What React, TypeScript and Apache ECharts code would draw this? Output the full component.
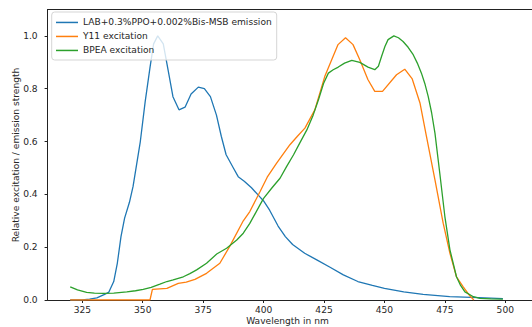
import React, { useEffect, useRef } from "react";
import * as echarts from "echarts";

const SERIES_NAMES = [
  "LAB+0.3%PPO+0.002%Bis-MSB emission",
  "Y11 excitation",
  "BPEA excitation",
];
const COLORS = ["#1f77b4", "#ff7f0e", "#2ca02c"];

const X_TICKS = [325, 350, 375, 400, 425, 450, 475, 500];
const Y_TICKS = [0, 0.2, 0.4, 0.6, 0.8, 1.0];

const LAB_NM = [320, 325, 328, 331, 334, 336, 338, 339.5, 341, 342.5, 344.5, 346, 349, 351, 353, 354.5, 356.2, 358.5, 360.5, 362.5, 365, 367.5, 370, 373, 375.5, 378, 380.5, 382.5, 384.5, 387.5, 389.5, 392, 395, 398, 400, 402.5, 406, 409, 412, 417, 422, 427.5, 433, 439, 445, 450, 458, 466, 477, 489, 499];
const LAB_VAL = [0.0, 0.0005, 0.003, 0.008, 0.02, 0.03, 0.07, 0.14, 0.24, 0.31, 0.37, 0.43, 0.6, 0.75, 0.88, 0.97, 1.0, 0.97, 0.87, 0.77, 0.72, 0.73, 0.78, 0.806, 0.8, 0.77, 0.7, 0.62, 0.55, 0.5, 0.467, 0.45, 0.425, 0.395, 0.375, 0.34, 0.28, 0.24, 0.21, 0.177, 0.152, 0.124, 0.095, 0.07, 0.055, 0.044, 0.031, 0.021, 0.0125, 0.009, 0.005];

const Y11_NM = [320, 353, 354, 360, 364.7, 368, 371.6, 376.4, 381.9, 386.1, 391.6, 394.3, 398.5, 401.5, 405.4, 410.9, 414, 417.1, 421.2, 425.3, 430.8, 433.9, 437, 439.8, 443.2, 446, 449.2, 455, 458.4, 461.5, 464.7, 467.4, 470.9, 474.3, 477.1, 479.8, 482.6, 485.4, 487];
const Y11_VAL = [0, 0, 0.04, 0.044, 0.063, 0.068, 0.078, 0.101, 0.139, 0.205, 0.3, 0.335, 0.41, 0.465, 0.518, 0.588, 0.62, 0.651, 0.72, 0.846, 0.967, 0.993, 0.967, 0.91, 0.834, 0.79, 0.79, 0.853, 0.874, 0.837, 0.746, 0.619, 0.455, 0.291, 0.177, 0.088, 0.05, 0.015, 0];

const BPEA_NM = [320, 323, 326.8, 330, 333.7, 338, 343.4, 347, 350.2, 353.5, 357.1, 360, 362.6, 366.8, 369.5, 372.3, 376.4, 380.6, 384.7, 388.9, 391.6, 394.3, 398.5, 400, 403.5, 406.8, 409.5, 412.4, 415, 417.9, 420.5, 422.7, 424.8, 426.8, 428.8, 430.9, 433.5, 436.5, 439.8, 443.2, 446, 447.5, 448.8, 450.2, 451.5, 453.9, 455.8, 457.7, 459.8, 461.9, 463.6, 465.3, 466.7, 468.1, 469.5, 470.9, 472.9, 475, 477.1, 479.8, 481.5, 483.3, 486.8, 489.5, 494, 499];
const BPEA_VAL = [0.05, 0.038, 0.029, 0.026, 0.025, 0.026, 0.031, 0.035, 0.04, 0.048, 0.06, 0.07, 0.076, 0.088, 0.1, 0.114, 0.139, 0.174, 0.196, 0.227, 0.253, 0.29, 0.36, 0.385, 0.425, 0.461, 0.505, 0.55, 0.595, 0.644, 0.7, 0.758, 0.82, 0.859, 0.872, 0.882, 0.897, 0.907, 0.9, 0.882, 0.872, 0.885, 0.922, 0.96, 0.986, 1.0, 0.993, 0.979, 0.957, 0.929, 0.897, 0.859, 0.82, 0.771, 0.71, 0.632, 0.48, 0.316, 0.19, 0.088, 0.055, 0.031, 0.0125, 0.006, 0.004, 0.003];

const X_LABEL = "Wavelength in nm";
const Y_LABEL = "Relative excitation / emission strength";

const FONT = "DejaVu Sans";
const FS = 9.1;

function pairs(xs: number[], ys: number[]) {
  return xs.map((x, i) => [x, ys[i]]);
}

export default function App() {
  const ref = useRef<HTMLDivElement>(null);
  useEffect(() => {
    if (!ref.current) return;
    const chart = echarts.init(ref.current, undefined, { renderer: "svg" });
    const xs = [LAB_NM, Y11_NM, BPEA_NM];
    const ys = [LAB_VAL, Y11_VAL, BPEA_VAL];
    const axisLine = { show: true, lineStyle: { color: "#222", width: 1 } };
    chart.setOption({
      animation: false,
      backgroundColor: "#fff",
      grid: { left: 47.6, right: 0, top: 9.5, bottom: 27, containLabel: false },
      xAxis: [
        {
          type: "value",
          min: 310.64,
          max: 511.05,
          axisLine: { ...axisLine, onZero: false },
          splitLine: { show: false },
          axisTick: { show: true, length: 3, customValues: X_TICKS, lineStyle: { color: "#222" } },
          axisLabel: {
            customValues: X_TICKS,
            fontFamily: FONT,
            fontSize: FS,
            color: "#262626",
            margin: 5,
          },
        },
        {
          type: "value",
          position: "top",
          min: 310.64,
          max: 511.05,
          axisLine: { ...axisLine, onZero: false },
          splitLine: { show: false },
          axisTick: { show: false },
          axisLabel: { show: false },
        },
      ],
      yAxis: {
        type: "value",
        min: 0,
        max: 1.1,
        axisLine: { ...axisLine, onZero: false },
        splitLine: { show: false },
        axisTick: { show: true, length: 3, customValues: Y_TICKS, lineStyle: { color: "#222" } },
        axisLabel: {
          customValues: Y_TICKS,
          formatter: (v: number) => v.toFixed(1),
          fontFamily: FONT,
          fontSize: FS,
          color: "#262626",
          margin: 10,
        },
      },
      legend: {
        orient: "vertical",
        left: 51.7,
        top: 12,
        data: SERIES_NAMES,
        icon: "rect",
        itemWidth: 22,
        itemHeight: 1.5,
        itemGap: 3.5,
        padding: [5.2, 5, 4.3, 4.3],
        backgroundColor: "rgba(255,255,255,0.8)",
        borderColor: "#d5d5d5",
        borderWidth: 1,
        borderRadius: 3,
        textStyle: { fontFamily: FONT, fontSize: FS, color: "#262626", lineHeight: 10.5 },
      },
      graphic: [
        {
          type: "text",
          x: 287.5,
          y: 316,
          style: {
            text: X_LABEL,
            fontFamily: FONT,
            fontSize: FS,
            fill: "#262626",
            align: "center",
            verticalAlign: "top",
          },
        },
        {
          type: "text",
          x: 15.5,
          y: 155,
          rotation: Math.PI / 2,
          style: {
            text: Y_LABEL,
            fontFamily: FONT,
            fontSize: FS,
            fill: "#262626",
            align: "center",
            verticalAlign: "middle",
          },
        },
      ],
      series: SERIES_NAMES.map((name, i) => ({
        name,
        type: "line",
        xAxisIndex: 0,
        data: pairs(xs[i], ys[i]),
        showSymbol: false,
        symbol: "none",
        color: COLORS[i],
        lineStyle: { color: COLORS[i], width: 1.3 },
        z: 2 + i,
      })),
    });
    return () => chart.dispose();
  }, []);
  return (
    <div
      ref={ref}
      style={{ position: "fixed", left: 0, top: 0, width: 532, height: 327 }}
    />
  );
}
